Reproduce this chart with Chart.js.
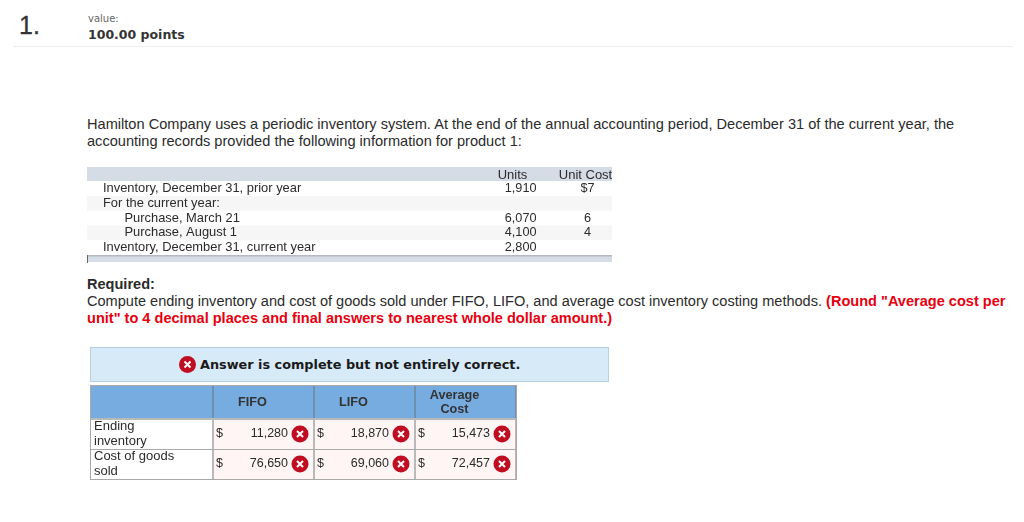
<!DOCTYPE html>
<html>
<head>
<meta charset="utf-8">
<script src="https://cdn.jsdelivr.net/npm/chart.js@4"></script>
<style>
  body { margin: 0; width: 1024px; height: 522px; background: #fff; position: relative; overflow: hidden;
         font-family: "Liberation Sans", sans-serif; color: #2b2b2b; }
  .t { position: absolute; white-space: nowrap; }
  .v { font-family: "DejaVu Sans", sans-serif; }
  .red { color: #e8000f; font-weight: bold; }
  canvas { position: absolute; }
  #divider { position: absolute; left: 13px; top: 46px; width: 1000px; height: 1px; background: #eeeeee; }
  #banner { position: absolute; left: 90px; top: 347px; width: 517px; height: 33px; background: #d7eaf7; border: 1px solid #b3d0e6; }
</style>
</head>
<body>
<div class="t" style="left:19px;top:11px;font-size:25px;color:#333;-webkit-text-stroke:0.3px #333">1.</div>
<div class="t" style="left:88px;top:13px;font-size:10px;color:#666;font-family:'DejaVu Sans'">value:</div>
<div class="t v" style="left:88px;top:27px;font-size:12.5px;font-weight:bold;color:#333">100.00 points</div>
<div id="divider"></div>

<div class="t" style="left:87px;top:116px;font-size:14.6px">Hamilton Company uses a periodic inventory system. At the end of the annual accounting period, December 31 of the current year, the</div>
<div class="t" style="left:87px;top:133px;font-size:14.6px">accounting records provided the following information for product 1:</div>

<div class="t" style="left:87px;top:276px;font-size:14.56px;font-weight:bold">Required:</div>
<div class="t" style="left:87px;top:293px;font-size:14.56px">Compute ending inventory and cost of goods sold under FIFO, LIFO, and average cost inventory costing methods. <span class="red">(Round "Average cost per</span></div>
<div class="t red" style="left:87px;top:310px;font-size:14.56px">unit" to 4 decimal places and final answers to nearest whole dollar amount.)</div>

<div id="banner"></div>
<svg style="position:absolute;left:179px;top:356px" width="17" height="17" viewBox="0 0 17 17">
  <circle cx="8.5" cy="8.5" r="8.5" fill="#c10d22"/>
  <path d="M5.5 5.5L11.5 11.5M11.5 5.5L5.5 11.5" stroke="#fff" stroke-width="2"/>
</svg>
<div class="t v" style="left:200px;top:357px;font-size:12.84px;font-weight:bold;color:#1a1a1a">Answer is complete but not entirely correct.</div>

<canvas id="inventoryChart" width="540" height="100" style="left:87px;top:167px"></canvas>
<canvas id="answerChart" width="427" height="95" style="left:90px;top:385px"></canvas>

<script>
const inventoryRows = ["Inventory, December 31, prior year", "For the current year:", "Purchase, March 21", "Purchase, August 1", "Inventory, December 31, current year"];
const indentedRows = [2, 3];
const inventoryColumns = ["Units", "Unit Cost"];
const units = [1910, null, 6070, 4100, 2800];
const unitCosts = [7, null, 6, 4, null];

const answerRows = [["Ending", "inventory"], ["Cost of goods", "sold"]];
const answerColumns = ["FIFO", "LIFO", ["Average", "Cost"]];
const endingInventory = [11280, 18870, 15473];
const costOfGoodsSold = [76650, 69060, 72457];

const textColor = "#2b2b2b";
const tableFont = { family: "'Liberation Sans'", size: 13 };

// the layout would otherwise add room for half a label at each end
function fixedWidth(w) {
  return (scale) => { scale.width = w; scale.paddingTop = 0; scale.paddingBottom = 0; };
}
function fixedHeight(h) {
  return (scale) => { scale.height = h; scale.paddingLeft = 0; scale.paddingRight = 0; };
}

// stripes behind the inventory table, numbers in front
const inventoryPlugin = {
  id: "inventoryTable",
  beforeDraw(chart) {
    const { ctx, chartArea: a, scales } = chart;
    const right = a.right - 10;
    ctx.save();
    ctx.fillStyle = "#d6dce6";
    ctx.fillRect(0, 0, right, a.top);
    inventoryRows.forEach((r, i) => {
      if (i % 2 == 1) {
        const y = scales.y.getPixelForValue(i);
        ctx.fillStyle = "#f6f6f6";
        ctx.fillRect(0, y - 7.3, right, 14.6);
      }
    });
    ctx.fillStyle = "#d6dce6";
    ctx.fillRect(0, a.bottom, right, 7);
    ctx.fillStyle = "#b4b9c2";
    ctx.fillRect(0, a.bottom, right, 1.5);
    ctx.fillStyle = "#666";
    ctx.fillRect(0, a.bottom, 1, 8);
    ctx.restore();
  },
  afterDatasetsDraw(chart) {
    const { ctx } = chart;
    ctx.save();
    ctx.font = "12.7px 'Liberation Sans'";
    ctx.fillStyle = textColor;
    ctx.textBaseline = "middle";
    chart.getDatasetMeta(0).data.forEach((el, i) => {
      const v = units[i];
      if (v == null) return;
      ctx.textAlign = "right";
      ctx.fillText(v.toLocaleString("en-US"), el.x + 24, el.y);
    });
    chart.getDatasetMeta(1).data.forEach((el, i) => {
      const v = unitCosts[i];
      if (v == null) return;
      ctx.textAlign = "center";
      ctx.fillText((i == 0 ? "$" : "") + v, el.x + 2, el.y);
    });
    ctx.restore();
  }
};

new Chart(document.getElementById("inventoryChart"), {
  type: "scatter",
  data: {
    labels: inventoryColumns,
    datasets: [
      { data: inventoryRows.map((r) => ({ x: inventoryColumns[0], y: r })), pointRadius: 0 },
      { data: inventoryRows.map((r) => ({ x: inventoryColumns[1], y: r })), pointRadius: 0 }
    ]
  },
  plugins: [inventoryPlugin],
  options: {
    responsive: false,
    animation: false,
    layout: { padding: { left: 16, top: 0, right: 5, bottom: 12 } },
    plugins: { legend: { display: false }, tooltip: { enabled: false } },
    scales: {
      x: {
        type: "category", position: "top", labels: inventoryColumns, offset: true,
        grid: { display: false, drawTicks: false }, border: { display: false },
        ticks: { color: textColor, font: tableFont, padding: -2, maxRotation: 0 },
        afterFit: fixedHeight(14)
      },
      y: {
        type: "category", labels: inventoryRows, offset: true,
        grid: { display: false, drawTicks: false }, border: { display: false },
        ticks: {
          color: textColor, font: { family: "'Liberation Sans'", size: 12.9 }, crossAlign: "far", padding: 0, autoSkip: false,
          callback(v, i) { return (indentedRows.includes(i) ? "      " : "") + inventoryRows[i]; }
        },
        afterFit: fixedWidth(373)
      }
    }
  }
});

// answer cells: pink fill, dollar sign, amount and the red cross
const answerPlugin = {
  id: "answerTable",
  beforeDraw(chart) {
    const { ctx, chartArea: a, width } = chart;
    ctx.save();
    ctx.fillStyle = "#76acdf";
    ctx.fillRect(1, 1, width - 2, a.top - 1);
    ctx.fillStyle = "#fff5f4";
    ctx.fillRect(a.left, a.top, a.right - a.left, a.bottom - a.top);
    ctx.restore();
  },
  afterDatasetsDraw(chart) {
    const { ctx, chartArea: a, width, height, scales } = chart;
    const half = (a.right - a.left) / 6;
    ctx.save();
    ctx.textBaseline = "middle";
    ctx.font = "12.5px 'Liberation Sans'";
    chart.data.datasets.forEach((ds, d) => {
      chart.getDatasetMeta(d).data.forEach((el, i) => {
        const right = el.x + half;
        ctx.fillStyle = textColor;
        ctx.textAlign = "left";
        ctx.fillText("$", el.x - half + 3, el.y);
        ctx.textAlign = "right";
        ctx.fillText(ds.data[i].value.toLocaleString("en-US"), right - 26, el.y);
        ctx.fillStyle = "#c10d22";
        ctx.beginPath();
        ctx.arc(right - 14, el.y, 8.5, 0, Math.PI * 2);
        ctx.fill();
        ctx.strokeStyle = "#fff";
        ctx.lineWidth = 2;
        ctx.beginPath();
        ctx.moveTo(right - 17, el.y - 3);
        ctx.lineTo(right - 11, el.y + 3);
        ctx.moveTo(right - 11, el.y - 3);
        ctx.lineTo(right - 17, el.y + 3);
        ctx.stroke();
      });
    });
    // header labels sit left of the column centre, one or two lines
    ctx.font = "bold 12.7px 'Liberation Sans'";
    ctx.fillStyle = "#333";
    ctx.textAlign = "center";
    answerColumns.forEach((label, i) => {
      const lines = [].concat(label);
      const x = scales.x.getPixelForValue(i) - 11;
      lines.forEach((line, j) => {
        ctx.fillText(line, x, a.top / 2 + (j - (lines.length - 1) / 2) * 14);
      });
    });
    ctx.fillStyle = "#b9b9b9";
    ctx.fillRect(1, a.top - 1, width - 2, 2);
    ctx.strokeStyle = "#a9a9a9";
    ctx.lineWidth = 1;
    ctx.strokeRect(0.5, 0.5, width - 1, height - 1);
    ctx.restore();
  }
};

// category labels that are arrays do not parse, so the points hold indexes
new Chart(document.getElementById("answerChart"), {
  type: "scatter",
  data: {
    labels: answerColumns,
    datasets: [
      { parsing: false, data: endingInventory.map((v, i) => ({ x: i, y: 0, value: v })), pointRadius: 0 },
      { parsing: false, data: costOfGoodsSold.map((v, i) => ({ x: i, y: 1, value: v })), pointRadius: 0 }
    ]
  },
  plugins: [answerPlugin],
  options: {
    responsive: false,
    animation: false,
    layout: { padding: { left: 4, top: 0, right: 1, bottom: 1 } },
    plugins: { legend: { display: false }, tooltip: { enabled: false } },
    scales: {
      x: {
        type: "category", position: "top", labels: answerColumns, offset: true,
        grid: { color: "#b9b9b9", lineWidth: 2, tickColor: "#6c8fb2", tickLength: 33, offset: true },
        border: { display: false },
        ticks: { display: false },
        afterFit: fixedHeight(34)
      },
      y: {
        type: "category", labels: answerRows, offset: true,
        grid: { color: "#a9a9a9", lineWidth: 1, tickColor: "#a9a9a9", tickLength: 123, offset: true },
        border: { display: false },
        ticks: { color: textColor, font: { family: "'Liberation Sans'", size: 13, lineHeight: 1.1 }, crossAlign: "far", padding: 0, autoSkip: false },
        afterFit: fixedWidth(119)
      }
    }
  }
});
</script>
</body>
</html>
